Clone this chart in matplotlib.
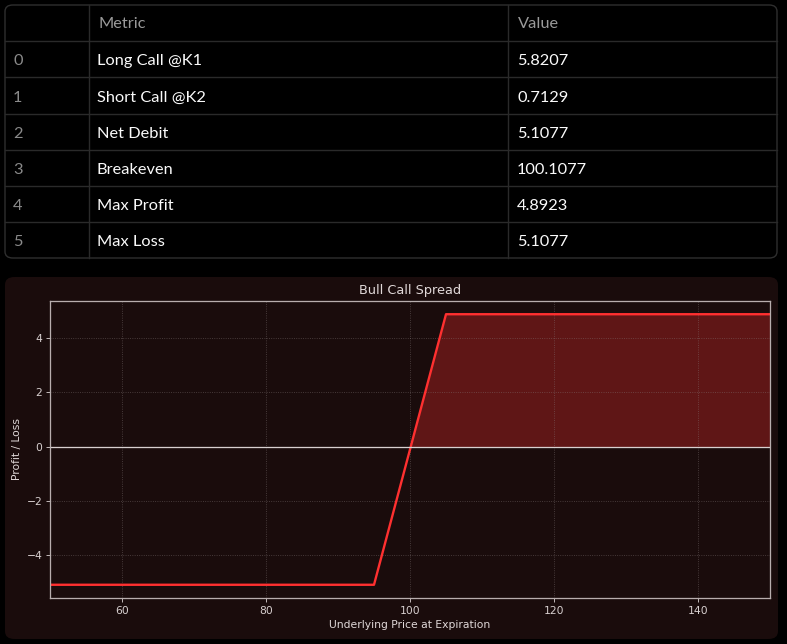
import numpy as np
import matplotlib
matplotlib.use("Agg")
import matplotlib.pyplot as plt
from matplotlib.patches import FancyBboxPatch
from matplotlib.lines import Line2D

# table data
metrics = ["Long Call @K1", "Short Call @K2", "Net Debit", "Breakeven", "Max Profit", "Max Loss"]
values = ["5.8207", "0.7129", "5.1077", "100.1077", "4.8923", "5.1077"]

# spread data
k1 = 95
k2 = 105
net_debit = 5.1077
prices = [50, 95, 105, 150]
pnl = [-5.1077, -5.1077, 4.8923, 4.8923]

W, H = 787, 644
s = 0.773  # streamlit scaled the figure down

fig = plt.figure(figsize=(W / 100, H / 100), dpi=100)
fig.patch.set_facecolor("#000000")


def fx(px):
    return px / W


def fy(py):
    return 1 - py / H


# --- table ---
tbl_font = ["Lato", "DejaVu Sans"]
fs = 11.8
fig.patches.append(FancyBboxPatch((fx(5), fy(258)), fx(772), 253 / H,
                                  boxstyle="round,pad=0,rounding_size=0.01",
                                  transform=fig.transFigure, facecolor="#000000",
                                  edgecolor="#2f2f2f", lw=1, zorder=-5))
row_edges = [41, 77, 114, 150, 186, 222]
for y in row_edges:
    fig.lines.append(Line2D([fx(5), fx(777)], [fy(y), fy(y)], transform=fig.transFigure,
                            color="#2a2a2a", lw=1))
for x in [89, 508]:
    fig.lines.append(Line2D([fx(x), fx(x)], [fy(5), fy(258)], transform=fig.transFigure,
                            color="#2a2a2a", lw=1))

fig.text(fx(98), fy(24.5), "Metric", color="#9a9a9a", fontsize=fs, family=tbl_font, va="center")
fig.text(fx(518), fy(24.5), "Value", color="#9a9a9a", fontsize=fs, family=tbl_font, va="center")
row_centers = [61, 97.5, 133.5, 169.5, 205.5, 242.5]
for i, (m, v) in enumerate(zip(metrics, values)):
    yc = fy(row_centers[i])
    fig.text(fx(13), yc, str(i), color="#8a8a8a", fontsize=fs, family=tbl_font, va="center")
    fig.text(fx(97), yc, m, color="#fafafa", fontsize=fs, family=tbl_font, va="center")
    fig.text(fx(517), yc, v, color="#fafafa", fontsize=fs, family=tbl_font, va="center")

# --- chart panel ---
bg = "#1a0c0c"
fig.patches.append(FancyBboxPatch((fx(5), fy(639)), fx(773), 362 / H,
                                  boxstyle="round,pad=0,rounding_size=0.012",
                                  transform=fig.transFigure, facecolor=bg,
                                  edgecolor="none", zorder=-5))

ax = fig.add_axes([fx(50), fy(598.3), fx(720), 297.6 / H])
ax.set_facecolor(bg)

red = "#ff3030"
ax.plot(prices, pnl, color=red, lw=2.2 * s)
ax.fill_between(prices, pnl, 0, where=[p > 0 for p in pnl], interpolate=True,
                color=red, alpha=0.3, lw=0)
ax.axhline(0, color="#d8d0d0", lw=1.2 * s)
ax.set_xlim(50, 150)

ax.grid(True, linestyle=":", color="#8a7f7f", alpha=0.5, lw=0.8 * s)
for sp in ax.spines.values():
    sp.set_color("#b8aeae")
    sp.set_linewidth(1.2 * s)
ax.tick_params(colors="#d8d0d0", labelsize=10 * s, length=3.5 * s, width=0.8 * s, pad=3.5 * s)
ax.set_title("Bull Call Spread", color="#e0d8d8", fontsize=12 * s, pad=6 * s)
ax.set_xlabel("Underlying Price at Expiration", color="#e0d8d8", fontsize=10 * s, labelpad=4 * s)
ax.set_ylabel("Profit / Loss", color="#e0d8d8", fontsize=10 * s, labelpad=4 * s)

fig.savefig("out.png", dpi=100, facecolor=fig.get_facecolor())
